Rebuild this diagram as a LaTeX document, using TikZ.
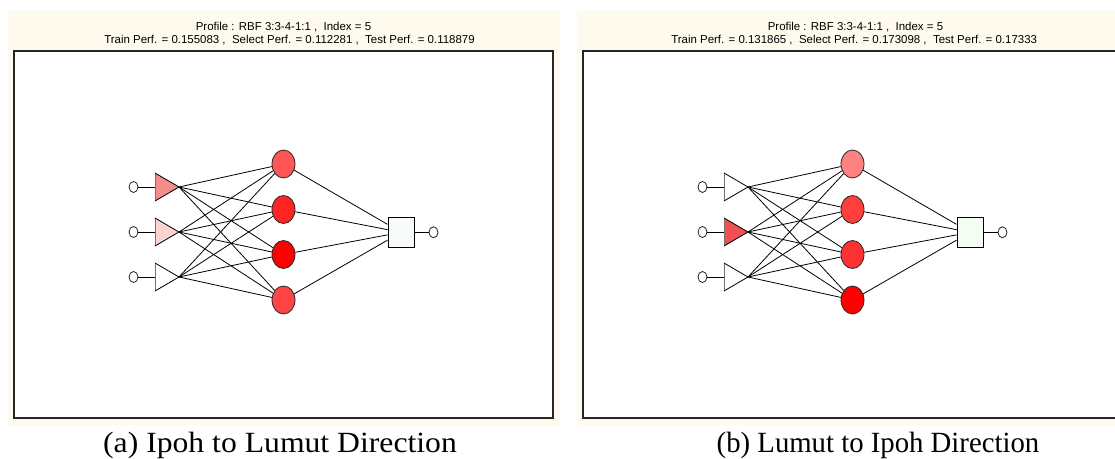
\documentclass[tikz,border=0pt]{standalone}
\usepackage{fontspec}
\setmainfont{Liberation Serif}
\newfontfamily\arialf{Liberation Sans}
\usetikzlibrary{shapes.geometric}
\definecolor{cream}{RGB}{255,250,238}
\definecolor{aT1}{RGB}{245,140,140}
\definecolor{aT2}{RGB}{250,210,210}
\definecolor{aT3}{RGB}{255,255,255}
\definecolor{aH1}{RGB}{255,85,85}
\definecolor{aH2}{RGB}{255,35,35}
\definecolor{aH3}{RGB}{255,0,0}
\definecolor{aH4}{RGB}{255,68,68}
\definecolor{aS}{RGB}{248,252,248}
\definecolor{bT1}{RGB}{255,255,255}
\definecolor{bT2}{RGB}{240,80,80}
\definecolor{bT3}{RGB}{255,255,255}
\definecolor{bH1}{RGB}{255,130,130}
\definecolor{bH2}{RGB}{255,62,62}
\definecolor{bH3}{RGB}{255,50,50}
\definecolor{bH4}{RGB}{255,0,0}
\definecolor{bS}{RGB}{244,252,244}
\newcommand\netpanel[1]{%
  \foreach \i/\yy in {1/187,2/232,3/277}{%
    \node[innode] (#1-in\i) at (133.5,\yy) {};
    \fill[#1T\i] (155,\yy-14) -- (179,\yy) -- (155,\yy+14) -- cycle;
    \draw[tri, black!55] (155,\yy-14) -- (155,\yy+14);
    \draw[tri] (155,\yy-14) -- (179,\yy) -- (155,\yy+14);
    \coordinate (#1-t\i) at (179,\yy);
    \coordinate (#1-b\i) at (155,\yy);
    \draw[conn] (#1-in\i) -- (#1-b\i);
  }
  \foreach \j/\yy in {1/164,2/209.5,3/254.5,4/300}{%
    \node[hid, fill=#1H\j] (#1-h\j) at (283.5,\yy) {};
  }
  \node[outsq, fill=#1S] (#1-o) at (401.2,232.3) {};
  \node[innode] (#1-out) at (433.5,232.3) {};
  \draw[conn] (#1-o) -- (#1-out);
  \foreach \i in {1,2,3}{\foreach \j in {1,2,3,4}{\draw[conn] (#1-t\i) -- (#1-h\j);}}
  \foreach \j in {1,2,3,4}{\draw[conn] (#1-h\j) -- (#1-o);}
}
\begin{document}
\begin{tikzpicture}[x=0.75pt,y=-0.75pt,
  conn/.style={line width=0.6pt, black},
  tri/.style={line width=0.6pt, black, line join=round},
  innode/.style={ellipse, draw=black!85, line width=0.6pt, fill=white, minimum width=6.75pt, minimum height=8.25pt, inner sep=0pt},
  hid/.style={ellipse, draw=black!85, line width=0.6pt, minimum width=17.25pt, minimum height=21pt, inner sep=0pt},
  outsq/.style={rectangle, draw=black, line width=1pt, minimum width=19.5pt, minimum height=22.5pt, inner sep=0pt},
  frame/.style={draw=black!85, line width=0.9pt, fill=white},
  ttl/.style={font=\arialf\fontsize{8.6pt}{10pt}\selectfont, anchor=base, inner sep=0pt},
  captext/.style={font=\fontsize{22pt}{26pt}\selectfont, anchor=base, inner sep=0pt}
]
\useasboundingbox (0,0) rectangle (1115,459);
\fill[white] (0,0) rectangle (1115,459);
\begin{scope}
\clip (0,0) rectangle (1115,459);
\fill[cream] (8,11) rectangle (560,425);
\fill[cream] (577,11) rectangle (1115,425);
\draw[frame] (14,51) rectangle (553,418);
\draw[frame] (583,51) rectangle (1125,418);
\end{scope}
\node[ttl] (ta1) at (283.5,30.5) {Profile : RBF 3:3-4-1:1 ,~~Index = 5};
\node[ttl] (ta2) at (289.5,43.3) {Train Perf. = 0.155083 ,~~Select Perf. = 0.112281 ,~~Test Perf. = 0.118879};
\node[ttl] (tb1) at (855.5,30.5) {Profile : RBF 3:3-4-1:1 ,~~Index = 5};
\node[ttl, anchor=base west] (tb2) at (671,43.3) {Train Perf. = 0.131865 ,~~Select Perf. = 0.173098 ,~~Test Perf. = 0.17333};
\netpanel{a}
\begin{scope}[xshift=426.75pt]
\netpanel{b}
\end{scope}
\node[captext] (capa) at (280,452.5) {\scalebox{1.08}[1]{(a) Ipoh to Lumut Direction}};
\node[captext] (capb) at (878,452.5) {\scalebox{0.98}[1]{(b) Lumut to Ipoh Direction}};
\end{tikzpicture}
\end{document}
